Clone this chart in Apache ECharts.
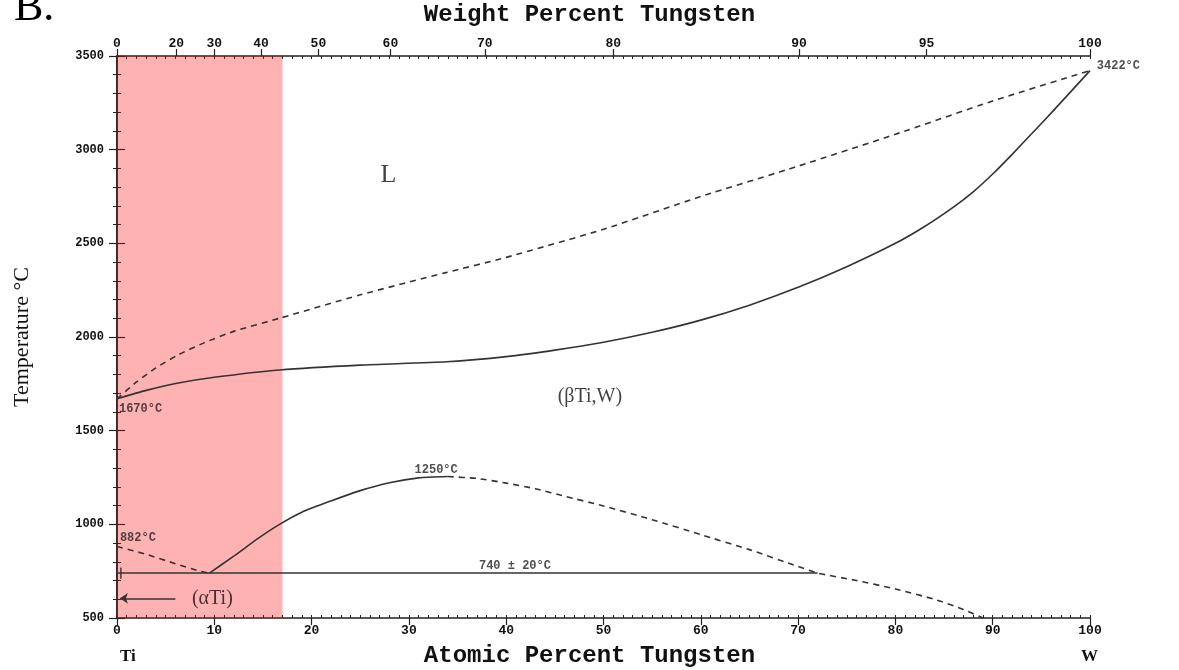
<!DOCTYPE html>
<html>
<head>
<meta charset="utf-8">
<title>Ti-W</title>
<script src="https://cdn.jsdelivr.net/npm/echarts@6/dist/echarts.min.js"></script>
<style>
  html, body { margin: 0; padding: 0; background: #fff; }
  #main { width: 1179px; height: 670px; }
</style>
</head>
<body>
<div id="main"></div>
<script>
// at.% W vs temperature
var liquidus = [[0,1670],[2,1760],[4,1835],[6.3,1905],[9,1970],[12,2030],[16.7,2100],[25,2225],[33.9,2345],[40,2425],[50,2575],[60,2750],[70,2912],[80,3082],[90,3260],[100,3422]];
var solidus = [[0,1670],[3,1715],[6.3,1754],[10,1785],[16.7,1824],[25,1850],[33.9,1868],[40,1895],[45,1930],[50,1972],[55,2025],[60,2090],[65,2170],[70,2265],[75,2375],[80,2500],[83,2590],[86,2695],[88,2775],[90,2870],[92,2975],[94,3085],[96,3195],[100,3422]];
var solvusSolid = [[9.5,740],[12,830],[14.5,925],[16.7,1000],[19,1065],[22,1125],[25,1180],[28,1222],[31,1248],[34,1255]];
var solvusDashed = [[34,1255],[37,1245],[40,1220],[43,1190],[46,1150],[50,1098],[55,1025],[60,945],[65,865],[70,775],[72,740],[76,700],[80,655],[84,600],[87,545],[89,500]];
var alphaBeta = [[0,882],[3,840],[6,790],[8.5,750],[9.5,740]];
var eutectoid = [[0,740],[72,740]];
var alphaSolvus = [[0.4,770],[0.4,710]];
var arrowLine = [[6,605],[0.3,605]];
var shadeRange = [0, 17];

// weight percent scale on top, with its position in at.%
var wtTicks = [0,20,30,40,50,60,70,80,90,95,100];
var wtTickAt = [0,6.1,10.0,14.8,20.7,28.1,37.8,51.0,70.1,83.2,100];

// [at.%, T, text, style, align]
var notes = [
  [0.2,1618,'1670°C','mono','left'],
  [0.3,925,'882°C','mono','left'],
  [32.8,1290,'1250°C','mono','center'],
  [40.9,777,'740 ± 20°C','mono','center'],
  [100.7,3446,'3422°C','mono','left'],
  [27.9,2865,'L','big','center'],
  [48.6,1680,'(βTi,W)','serif','center'],
  [9.8,605,'(αTi)','serif','center']
];

var LINE = '#333';
var AX = '#222';
var MONO = '"Liberation Mono", "DejaVu Sans Mono", monospace';
var SERIF = '"Liberation Serif", "DejaVu Serif", serif';

var chart = echarts.init(document.getElementById('main'));

function lineSeries(data, dashed) {
  return {
    type: 'line', data: data, symbol: 'none', smooth: 0.2, silent: true,
    lineStyle: { color: LINE, width: 1.6, type: dashed ? [6, 5] : 'solid' }
  };
}

var option = {
  animation: false,
  grid: { left: 117, right: 89, top: 56, bottom: 52 },
  xAxis: [
    {
      type: 'value', min: 0, max: 100, interval: 10, position: 'bottom',
      axisLine: { lineStyle: { color: AX, width: 1.5 } },
      axisTick: { length: 7, lineStyle: { color: AX, width: 1.2 } },
      axisLabel: { color: '#111', fontFamily: MONO, fontSize: 13, fontWeight: 'bold', margin: 6 },
      splitLine: { show: false }
    },
    {
      type: 'value', min: 0, max: 100, position: 'top',
      axisLine: { lineStyle: { color: AX, width: 1.5 } },
      axisTick: { length: 7, customValues: wtTickAt, lineStyle: { color: AX, width: 1.2 } },
      axisLabel: {
        customValues: wtTickAt, color: '#111', fontFamily: MONO, fontSize: 13, fontWeight: 'bold', margin: 6,
        formatter: function (v) {
          var best = 0;
          for (var i = 0; i < wtTickAt.length; i++) {
            if (Math.abs(wtTickAt[i] - v) < Math.abs(wtTickAt[best] - v)) best = i;
          }
          return String(wtTicks[best]);
        }
      },
      splitLine: { show: false }
    },
    {
      type: 'value', min: 0, max: 100, interval: 1, position: 'top',
      axisLine: { show: false },
      axisTick: { inside: true, length: 3, lineStyle: { color: AX } },
      axisLabel: { show: false }, splitLine: { show: false }
    },
    {
      type: 'value', min: 0, max: 100, interval: 1, position: 'bottom',
      axisLine: { show: false },
      axisTick: { inside: true, length: 3, lineStyle: { color: AX } },
      axisLabel: { show: false }, splitLine: { show: false }
    }
  ],
  yAxis: [
    {
      type: 'value', min: 500, max: 3500, interval: 500, position: 'left',
      axisLine: { show: true, lineStyle: { color: AX, width: 1.5 } },
      axisTick: { show: true, length: 8, lineStyle: { color: AX, width: 1.2 } },
      minorTick: { show: true, splitNumber: 5, length: 4, lineStyle: { color: AX } },
      axisLabel: {
        color: '#111', fontFamily: MONO, fontSize: 12, fontWeight: 'bold', margin: 13,
        formatter: function (v) { return String(v); }
      },
      splitLine: { show: false }
    },
    {
      type: 'value', min: 500, max: 3500, interval: 500, position: 'right',
      axisLine: { show: true, lineStyle: { color: AX, width: 1.5 } },
      axisTick: { show: true, length: 8, lineStyle: { color: AX, width: 1.2 } },
      minorTick: { show: true, splitNumber: 5, length: 4, lineStyle: { color: AX } },
      axisLabel: { show: false },
      splitLine: { show: false }
    }
  ],
  graphic: [
    { type: 'text', left: 14, top: -14, style: { text: 'B.', font: '44px ' + SERIF, fill: '#000' } },
    { type: 'text', left: 'center', top: 3, style: { text: 'Weight Percent Tungsten', font: 'bold 24px ' + MONO, fill: '#111' } },
    { type: 'text', left: 'center', top: 644, style: { text: 'Atomic Percent Tungsten', font: 'bold 24px ' + MONO, fill: '#111' } },
    { type: 'text', left: 120, top: 648, style: { text: 'Ti', font: 'bold 17px ' + SERIF, fill: '#111' } },
    { type: 'text', left: 1081, top: 648, style: { text: 'W', font: 'bold 17px ' + SERIF, fill: '#111' } },
    { type: 'text', x: 22, y: 337, rotation: Math.PI / 2, style: { text: 'Temperature °C', font: '22px ' + SERIF, fill: '#111', align: 'center', verticalAlign: 'middle' } }
  ],
  series: [
    lineSeries(liquidus, true),
    lineSeries(solidus, false),
    lineSeries(solvusSolid, false),
    lineSeries(solvusDashed, true),
    lineSeries(alphaBeta, true),
    { type: 'line', data: eutectoid, symbol: 'none', silent: true, lineStyle: { color: LINE, width: 1.6 } },
    { type: 'line', data: alphaSolvus, symbol: 'none', silent: true, lineStyle: { color: LINE, width: 1.4 } },
    {
      type: 'lines', coordinateSystem: 'cartesian2d', silent: true,
      symbol: ['none', 'arrow'], symbolSize: 8,
      lineStyle: { color: LINE, width: 1.6, opacity: 1 },
      data: [{ coords: arrowLine }]
    },
    {
      type: 'scatter', symbolSize: 0, clip: false, silent: true,
      data: notes.map(function (n) {
        return { value: [n[0], n[1]], name: n[2], label: { align: n[4] } };
      }),
      label: {
        show: true, position: 'inside', verticalAlign: 'middle',
        formatter: function (p) { return '{' + notes[p.dataIndex][3] + '|' + p.name + '}'; },
        rich: {
          mono: { fontFamily: MONO, fontSize: 12, fontWeight: 'bold', color: '#222' },
          serif: { fontFamily: SERIF, fontSize: 20, color: '#111' },
          big: { fontFamily: SERIF, fontSize: 26, color: '#111' }
        }
      }
    },
    {
      type: 'line', data: [], z: 10, silent: true,
      markArea: {
        silent: true,
        itemStyle: { color: 'rgba(255,0,0,0.3)' },
        data: [[{ xAxis: shadeRange[0] }, { xAxis: shadeRange[1] }]]
      }
    }
  ]
};

chart.setOption(option);
window.onresize = chart.resize;
</script>
</body>
</html>
